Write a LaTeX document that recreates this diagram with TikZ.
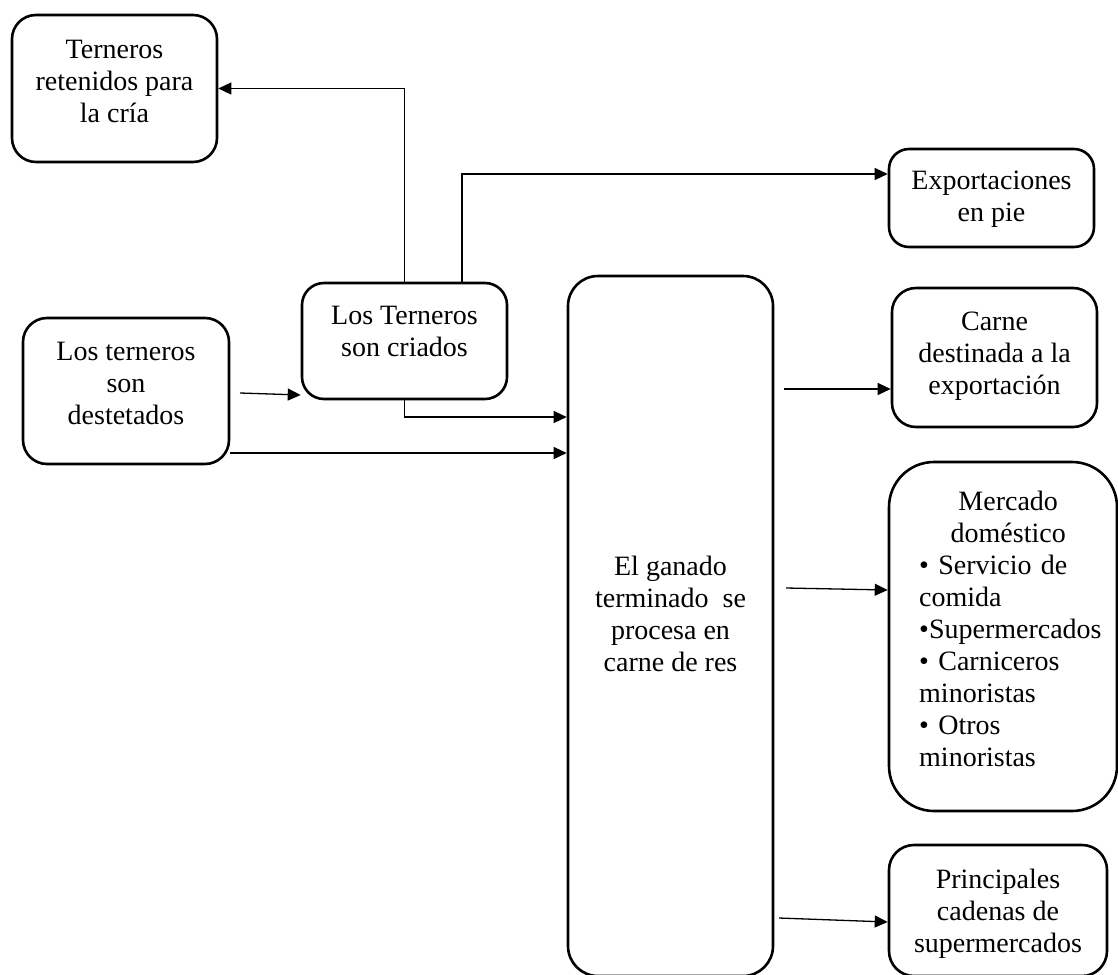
\documentclass[tikz,border=0pt]{standalone}
\usepackage{fontspec}
\setmainfont{Liberation Serif}
\usetikzlibrary{arrows.meta}
\tikzset{
  box/.style={draw, line width=2.6pt, rounded corners=#1, inner sep=0pt},
  txt/.style={inner sep=0pt, align=center, font=\fontsize{28}{32}\selectfont},
  arr/.style={line width=1.3pt, -{Triangle[length=13pt,width=12pt]}}
}
\begin{document}
\begin{tikzpicture}[x=1pt,y=-1pt]
\useasboundingbox (0,0) rectangle (1118,974);
% boxes
\node[box=24pt, minimum width=205pt, minimum height=147pt] (ret) at (114.5,88.5) {};
\node[box=24pt, minimum width=206pt, minimum height=146pt] (ds) at (126,391) {};
\node[box=22pt, minimum width=205pt, minimum height=116pt] (cr) at (404.5,341) {};
\node[box=30pt, minimum width=205pt, minimum height=700pt] (big) at (670.5,626) {};
\node[box=20pt, minimum width=205pt, minimum height=98pt] (exp) at (991.5,198) {};
\node[box=24pt, minimum width=205pt, minimum height=139pt] (carne) at (994.5,357.5) {};
\node[box=45pt, minimum width=228pt, minimum height=349pt] (merc) at (1003,636.5) {};
\node[box=25pt, minimum width=218pt, minimum height=131pt] (prin) at (998,910.5) {};
% texts
\node[txt, anchor=north] (tret) at (114.5,35.6) {\strut Terneros\\retenidos para\\la cría};
\node[txt, anchor=north] (tds) at (126,337.6) {\strut Los terneros\\son\\destetados};
\node[txt, anchor=north] (tcr) at (404.5,301.6) {\strut Los Terneros\\son criados};
\node[txt, anchor=north] (texp) at (991.5,166.6) {\strut Exportaciones\\en pie};
\node[txt, anchor=north] (tcarne) at (994.5,307.6) {\strut Carne\\destinada a la\\exportación};
\node[txt, anchor=north] (tbig) at (670.5,552.6) {\strut El ganado\\terminado\ \ se\\procesa en\\carne de res};
\node[txt, anchor=north west, align=left, text width=186pt] (tmerc) at (919,487.6)
  {\strut\makebox[178pt]{Mercado}\\\makebox[178pt]{doméstico}\\• Servicio de\\comida\\•Supermercados\\• Carniceros\\minoristas\\• Otros\\minoristas};
\node[txt, anchor=north] (tprin) at (998,865.6) {\strut Principales\\cadenas de\\supermercados};
% helper coordinates
\coordinate (a3) at (240,393);
\coordinate (h4) at (0,417);
\coordinate (h5) at (0,453);
\coordinate (a6) at (784,389);
\coordinate (a7) at (786,588);
\coordinate (a8) at (779,918);
% connectors
\draw[arr] (cr.north) |- (ret.east);
\draw[arr] ([xshift=57.5pt]cr.north) |- ([yshift=24pt]exp.west);
\draw[arr] (a3) -- ([yshift=-54pt]cr.west);
\draw[arr] (cr.south) |- (big.west |- h4);
\draw[arr] (ds.east |- h5) -- (big.west |- h5);
\draw[arr] (a6) -- (carne.west |- a6);
\draw[arr] (a7) -- ([yshift=46.5pt]merc.west);
\draw[arr] (a8) -- ([yshift=-11.5pt]prin.west);
\end{tikzpicture}
\end{document}
